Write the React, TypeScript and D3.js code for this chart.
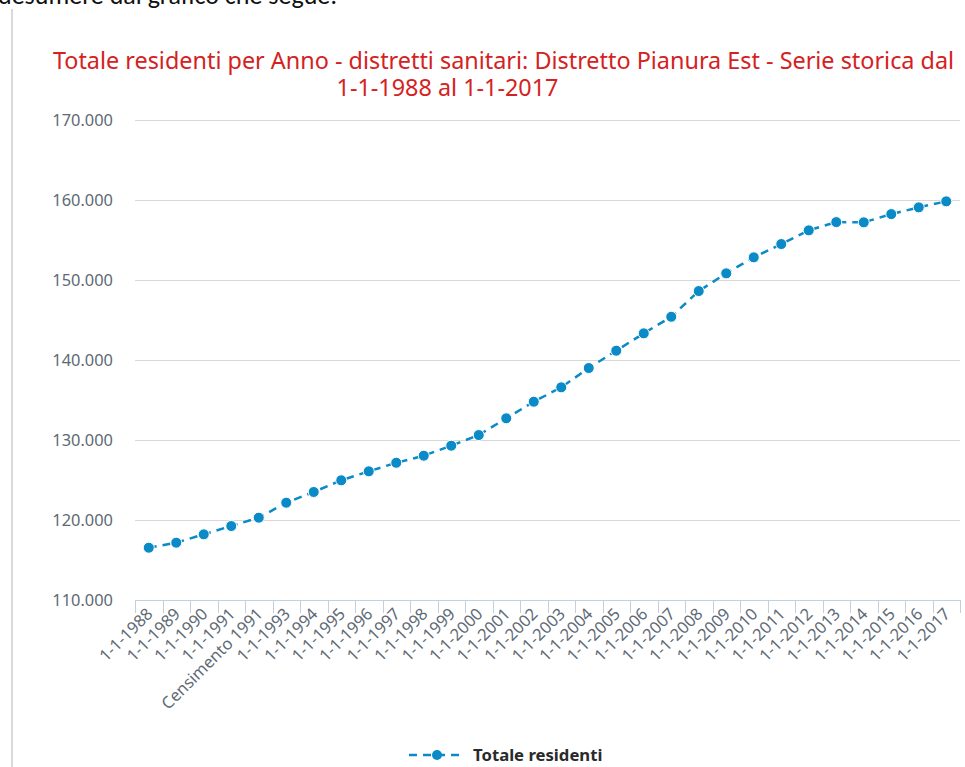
import * as d3 from 'd3'

const categories = [
  '1-1-1988', '1-1-1989', '1-1-1990', '1-1-1991', 'Censimento 1991',
  '1-1-1993', '1-1-1994', '1-1-1995', '1-1-1996', '1-1-1997',
  '1-1-1998', '1-1-1999', '1-1-2000', '1-1-2001', '1-1-2002',
  '1-1-2003', '1-1-2004', '1-1-2005', '1-1-2006', '1-1-2007',
  '1-1-2008', '1-1-2009', '1-1-2010', '1-1-2011', '1-1-2012',
  '1-1-2013', '1-1-2014', '1-1-2015', '1-1-2016', '1-1-2017',
]

const residenti = [
  116590, 117220, 118260, 119300, 120340,
  122210, 123550, 125010, 126130, 127200,
  128080, 129330, 130660, 132750, 134820,
  136620, 139030, 141190, 143360, 145430,
  148640, 150850, 152850, 154510, 156220,
  157250, 157220, 158250, 159090, 159840,
]

const yTicks = [110000, 120000, 130000, 140000, 150000, 160000, 170000]

const seriesName = 'Totale residenti'
const titleLine1 = 'Totale residenti per Anno - distretti sanitari: Distretto Pianura Est - Serie storica dal'
const titleLine2 = '1-1-1988 al 1-1-2017'

const W = 965
const H = 767
const blue = '#0a8ac6'
const font = '"Noto Sans", "DejaVu Sans", sans-serif'

// italian thousands separator
const fmt = (v: number) => d3.format(',')(v).replace(/,/g, '.')

export default function App() {
  const x = d3.scaleBand<string>().domain(categories).range([135, 960])
  const y = d3.scaleLinear().domain([110000, 170000]).range([600.5, 120])
  const cx = (c: string) => (x(c) as number) + x.bandwidth() / 2

  const line = d3
    .line<number>()
    .x((_, i) => cx(categories[i]))
    .y((d) => y(d))

  const tickXs = categories.map((c) => x(c) as number).concat([x.range()[1]])

  return (
    <svg width={W} height={H} style={{ position: 'absolute', left: 0, top: 0, background: '#fff' }}>
      {/* text of the page cut off above the chart */}
      <text x={-2} y={4} fontFamily='Carlito, "Liberation Sans", sans-serif' fontSize={26} fill="#111">
        desumere dal grafico che segue:
      </text>
      <line x1={12} x2={12} y1={9} y2={H} stroke="#d9d9d9" strokeWidth={2} />

      {/* title */}
      <text x={503.5} y={69} textAnchor="middle" fontFamily={font} fontSize={23.4} fill="#d42222">
        {titleLine1}
      </text>
      <text x={447.5} y={96} textAnchor="middle" fontFamily={font} fontSize={23.4} fill="#d42222">
        {titleLine2}
      </text>

      {/* grid + y labels */}
      {yTicks.map((t) => (
        <g key={t}>
          {t > 110000 && (
            <line x1={135} x2={960} y1={Math.round(y(t)) + 0.5} y2={Math.round(y(t)) + 0.5} stroke="#d8d8d8" />
          )}
          <text x={113} y={y(t) + 5.5} textAnchor="end" fontFamily={font} fontSize={16.4} fill="#606a75">
            {fmt(t)}
          </text>
        </g>
      ))}

      {/* x axis */}
      <line x1={135} x2={960} y1={600.5} y2={600.5} stroke="#c0d0e0" />
      {tickXs.map((tx, i) => (
        <line key={i} x1={Math.round(tx) + 0.5} x2={Math.round(tx) + 0.5} y1={600} y2={613} stroke="#c0d0e0" />
      ))}
      {categories.map((c) => (
        <text
          key={c}
          transform={`translate(${cx(c) + 5},${615}) rotate(-45)`}
          textAnchor="end"
          fontFamily={font}
          fontSize={16.5}
          fill="#606a75"
        >
          {c}
        </text>
      ))}

      {/* series */}
      <path d={line(residenti) ?? ''} fill="none" stroke={blue} strokeWidth={2.5} strokeDasharray="8,6" />
      {residenti.map((v, i) => (
        <circle key={i} cx={cx(categories[i])} cy={y(v)} r={5.5} fill={blue} stroke="#fff" strokeWidth={1} />
      ))}

      {/* legend */}
      <line x1={409} x2={462} y1={755} y2={755} stroke={blue} strokeWidth={2.5} strokeDasharray="8,6" />
      <circle cx={437} cy={755} r={5} fill={blue} />
      <text x={473} y={761} fontFamily={font} fontSize={16.7} fontWeight="bold" fill="#2a2a2a">
        {seriesName}
      </text>
    </svg>
  )
}
